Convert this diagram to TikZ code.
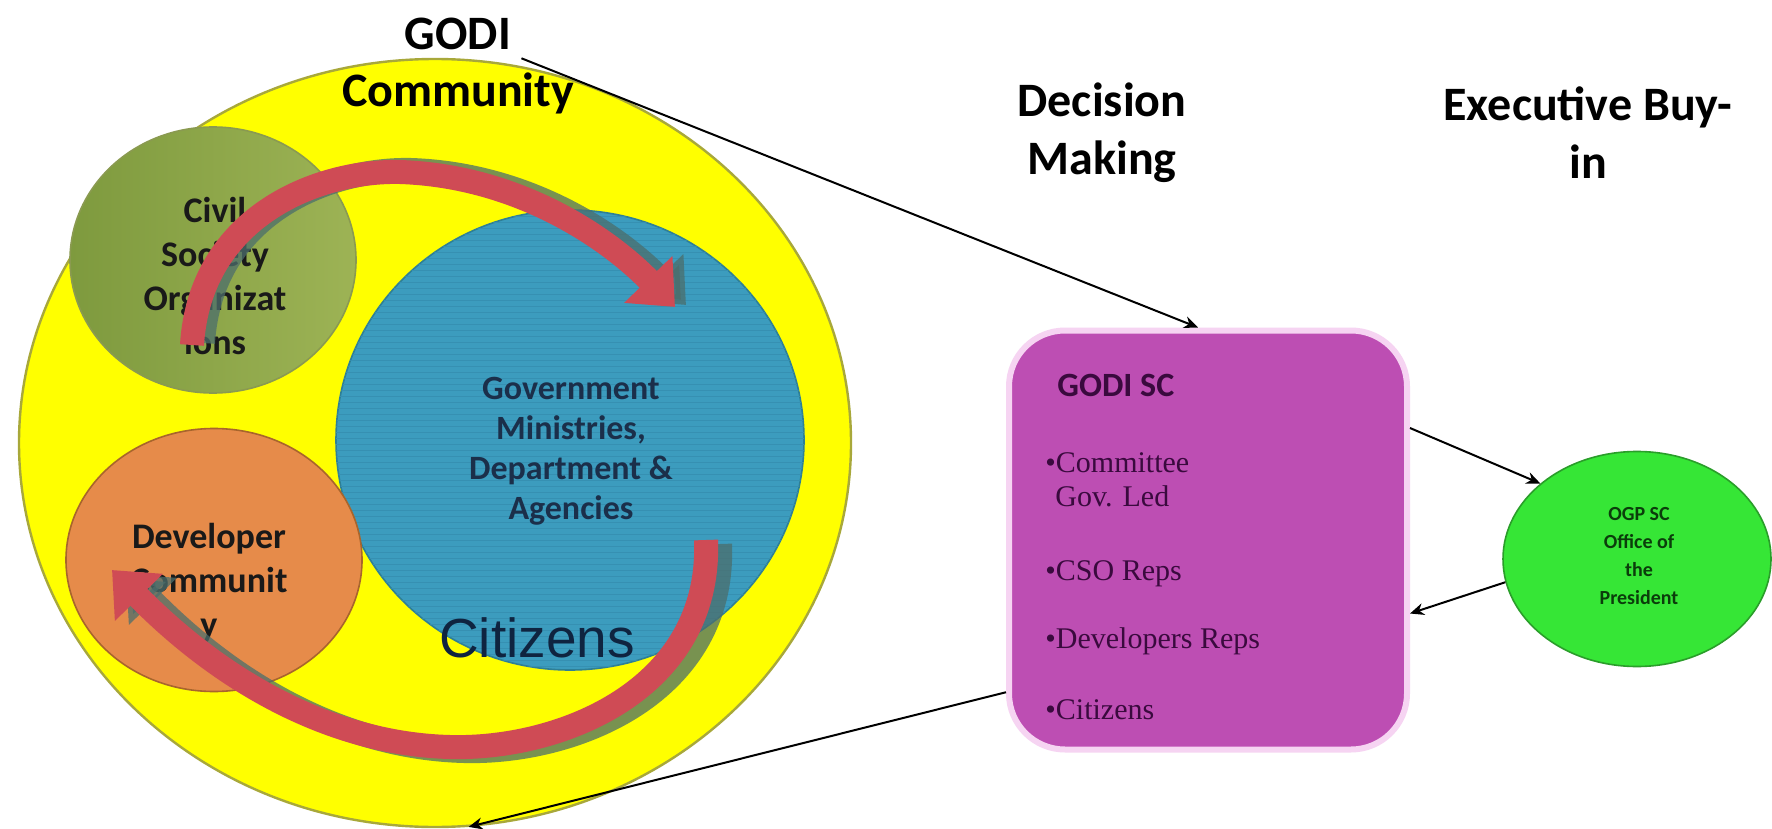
\documentclass[tikz,border=0pt]{standalone}
\usepackage{fontspec}
\setmainfont{Liberation Serif}
\newfontfamily\calfont{Carlito}
\newfontfamily\arifont{Liberation Sans}
\usetikzlibrary{arrows.meta,shapes.geometric,patterns}
\definecolor{yel}{HTML}{FFFF00}
\definecolor{yeledge}{HTML}{A8A83A}
\definecolor{olivel}{HTML}{7E9A3E}
\definecolor{oliver}{HTML}{9DB355}
\definecolor{oliveedge}{HTML}{8A9A50}
\definecolor{tealf}{HTML}{3C9CBE}
\definecolor{tealline}{HTML}{3690B2}
\definecolor{tealedge}{HTML}{2E7F96}
\definecolor{orangef}{HTML}{E68B4A}
\definecolor{orangeedge}{HTML}{A8652C}
\definecolor{magf}{HTML}{BD4EB3}
\definecolor{magedge}{HTML}{F6D4F2}
\definecolor{greenf}{HTML}{36E636}
\definecolor{greenedge}{HTML}{2A9E2A}
\definecolor{arrred}{HTML}{CF4B55}
\definecolor{arrshadow}{HTML}{4C6E6C}
\definecolor{govtext}{HTML}{1B2F4A}
\definecolor{citext}{HTML}{0F2440}
\definecolor{boxtext}{HTML}{3A0A3E}
\definecolor{ogptext}{HTML}{0B3D0B}
\begin{document}
\begin{tikzpicture}[x=0.5pt,y=-0.5pt,
  blob/.style={ellipse, inner sep=0pt},
  lbl/.style={align=center, inner sep=0pt},
  head/.style={lbl, font=\calfont\bfseries\fontsize{24}{29}\selectfont, text=black},
  circtext/.style={lbl, font=\calfont\bfseries\fontsize{18}{22}\selectfont, text=black!90},
  boxitem/.style={anchor=base west, inner sep=0pt, text=boxtext, font=\fontsize{15}{17}\selectfont},
  conn/.style={-{Stealth[length=7pt,width=6pt]}, line width=1pt, black},
  band/.style={line width=12pt, draw=arrred, -{Triangle[length=0pt 1.6, width=0pt 2.7]}},
  bandshadow/.style={line width=12pt, draw=arrshadow, opacity=0.75, -{Triangle[length=0pt 1.6, width=0pt 2.7]}}
]
\useasboundingbox (0,0) rectangle (1772,829);
\fill[white] (0,0) rectangle (1772,829);

% ---- left: GODI community ----
\node[blob, fill=yel, draw=yeledge, line width=1.2pt, minimum width=416pt, minimum height=384pt] (yellow) at (435,443) {};
\node[blob, left color=olivel, right color=oliver, draw=oliveedge, line width=0.8pt, minimum width=143pt, minimum height=133pt] (civil) at (213,260) {};
\node[blob, fill=tealf, draw=tealedge, line width=0.8pt, minimum width=234pt, minimum height=230pt,
      postaction={pattern=horizontal lines, pattern color=tealline}] (gov) at (570,440) {};
\node[blob, fill=orangef, draw=orangeedge, line width=0.8pt, minimum width=148pt, minimum height=131.5pt] (dev) at (214,560) {};

\node[head] (godi) at (458,34) {GODI};
\node[head] (community) at (458,93) {Community};

\node[circtext] (civiltext) at (215,276) {Civil\\Society\\Organizat\\ions};
\node[lbl, font=\calfont\bfseries\fontsize{17}{20}\selectfont, text=govtext] (govtext) at (571,451) {Government\\Ministries,\\Department \&\\Agencies};
\node[lbl, font=\arifont\fontsize{27.5}{30}\selectfont, text=citext] (citizens) at (537,638) {Citizens};
\node[circtext] (devtext) at (209,583) {Developer\\Communit\\y};

% curved arrows
\draw[bandshadow, shift={(11,-2)}] (192,345) .. controls (200,215) and (320,170) .. (400,172) .. controls (520,176) and (610,240) .. (675,307);
\draw[band] (192,345) .. controls (200,215) and (320,170) .. (400,172) .. controls (520,176) and (610,240) .. (675,307);
\draw[bandshadow, shift={(14,4)}] (706,540) .. controls (712,690) and (560,750) .. (450,747) .. controls (330,744) and (220,680) .. (112,570);
\draw[band] (706,540) .. controls (712,690) and (560,750) .. (450,747) .. controls (330,744) and (220,680) .. (112,570);

% ---- right side ----
\node[head] (decision) at (1102,133) {Decision\\Making};
\node[head] (exec) at (1588,133) {Executive Buy-\\in};

\node[draw=magedge, line width=3pt, fill=magf, rounded corners=28pt, minimum width=199pt, minimum height=209.5pt, inner sep=0pt] (box) at (1208,540) {};
\node[anchor=base west, inner sep=0pt, text=boxtext, font=\calfont\bfseries\fontsize{17}{20}\selectfont] (godisc) at (1057,396) {GODI SC};
\node[boxitem] (b1) at (1045,472) {\textbullet Committee};
\node[boxitem] (b1b) at (1055,506) {Gov. Led};
\node[boxitem] (b2) at (1045,580) {\textbullet CSO Reps};
\node[boxitem] (b3) at (1045,648) {\textbullet Developers Reps};
\node[boxitem] (b4) at (1045,719) {\textbullet Citizens};

\node[blob, fill=greenf, draw=greenedge, line width=0.8pt, minimum width=134pt, minimum height=107.5pt] (ogp) at (1637,559) {};
\node[lbl, font=\calfont\bfseries\fontsize{10}{14}\selectfont, text=ogptext] (ogptext) at (1639,556) {OGP SC\\Office of\\the\\President};

% connectors
\draw[conn] ([shift={(10,8)}]godi.south east) -- ([xshift=-5pt]box.north);
\draw[conn] (box.29) -- (ogp.142);
\draw[conn] (ogp.190) -- (box.-20);
\draw[conn] (box.217) -- (yellow.-85);
\end{tikzpicture}
\end{document}
